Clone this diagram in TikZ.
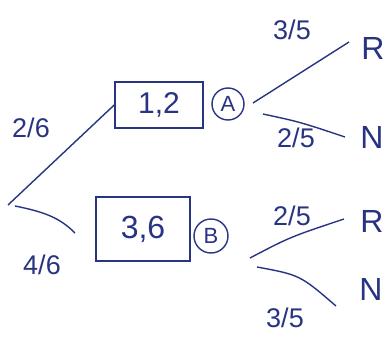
\documentclass[tikz,border=0pt]{standalone}
\usepackage{fontspec}
\setmainfont{Liberation Sans}
\begin{document}
\begin{tikzpicture}[x=1pt,y=-1pt,
  ink/.style={draw=inkc, line width=1.4pt},
  lbl/.style={text=inkc, font=\fontsize{27}{29}\selectfont, inner sep=0pt},
  end/.style={text=inkc, font=\fontsize{32}{34}\selectfont, inner sep=0pt},
  box/.style={draw=inkc, line width=1.6pt, minimum width=88pt, inner sep=0pt},
  circ/.style={draw=inkc, circle, line width=1.4pt, minimum size=32pt, inner sep=0pt, text=inkc, font=\fontsize{22}{24}\selectfont}]
\definecolor{inkc}{RGB}{40,52,130}
\fill[white] (0,0) rectangle (392,340);
\useasboundingbox (0,0) rectangle (392,340);
% root
\coordinate (root) at (8,205);
\coordinate (rootb) at (15,206);
% boxes
\node[box, minimum height=46pt, text=inkc, font=\fontsize{30}{32}\selectfont] (b12) at (159,105) {1,2};
\node[box, minimum width=94pt, minimum height=64pt, text=inkc, font=\fontsize{32}{34}\selectfont] (b36) at (143,229) {3,6};
\node[circ] (A) at (228,104) {A};
\node[circ, minimum size=34pt] (B) at (211,236) {B};
% left branches
\coordinate (lowend) at (75,233);
\draw[ink] (root) -- (b12.west);
\draw[ink] (rootb) .. controls (45,212) and (60,218) .. (lowend);
\node[lbl] (f26) at (31,128) {2/6};
\node[lbl] (f46) at (42,265) {4/6};
% upper right
\coordinate (a1) at (253,103);
\coordinate (a2) at (263,114);
\node[end] (R1) at (373,48) {R};
\node[end] (N1) at (372,137) {N};
\coordinate (r1) at (349,42);
\coordinate (n1) at (345,137);
\draw[ink] (a1) -- (r1);
\draw[ink] (a2) .. controls (300,122) .. (n1);
\node[lbl] (f35a) at (292,30) {3/5};
\node[lbl] (f25a) at (296,138) {2/5};
% lower right
\coordinate (c1) at (250,258);
\coordinate (c2) at (257,267);
\node[end] (R2) at (372,221) {R};
\node[end] (N2) at (371,289) {N};
\coordinate (r2) at (344,219);
\coordinate (n2) at (336,306);
\draw[ink] (c1) .. controls (290,237) .. (r2);
\draw[ink] (c2) .. controls (300,275) .. (n2);
\node[lbl] (f25b) at (292,216) {2/5};
\node[lbl] (f35b) at (285,318) {3/5};
\end{tikzpicture}
\end{document}
